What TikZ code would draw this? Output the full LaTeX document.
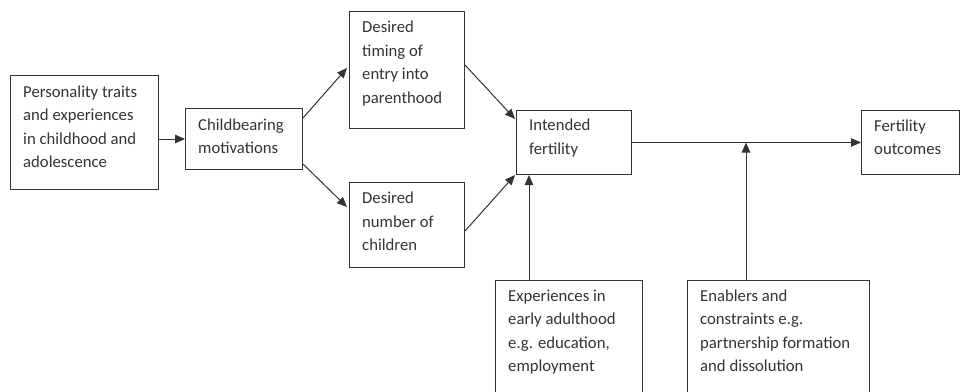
\documentclass[tikz,border=0pt]{standalone}
\usepackage{fontspec}
\setmainfont{Carlito}
\usetikzlibrary{arrows.meta}
\definecolor{ink}{HTML}{333333}
\begin{document}
\begin{tikzpicture}[x=1pt,y=-1pt,
  frame/.style={draw=ink, line width=1pt, anchor=north west, inner sep=0pt},
  txt/.style={anchor=north west, inner sep=0pt, align=left, text=ink, font=\fontsize{16.7}{23.5}\selectfont},
  arr/.style={draw=ink, line width=1pt, -{Triangle[length=10pt,width=8.5pt]}}]
\useasboundingbox (0,0) rectangle (960,391);
% boxes
\node[frame, minimum width=148pt, minimum height=114pt] (pers) at (10,75) {};
\node[frame, minimum width=117pt, minimum height=61pt] (child) at (185,108) {};
\node[frame, minimum width=115pt, minimum height=117pt] (timing) at (349,11) {};
\node[frame, minimum width=115pt, minimum height=85pt] (number) at (349,182) {};
\node[frame, minimum width=115pt, minimum height=64pt] (intended) at (516,110) {};
\node[frame, minimum width=98pt, minimum height=64pt] (outcomes) at (861,110) {};
\node[frame, minimum width=147pt, minimum height=130pt] (exp) at (495,280) {};
\node[frame, minimum width=182pt, minimum height=130pt] (en) at (687,280) {};
% texts
\node[txt] (persT) at ([shift={(13,5.5)}]pers.north west) {\strut Personality traits\\and experiences\\in childhood and\\adolescence};
\node[txt] (childT) at ([shift={(13,5.5)}]child.north west) {\strut Childbearing\\motivations};
\node[txt] (timingT) at ([shift={(13,5)}]timing.north west) {\strut Desired\\timing of\\entry into\\parenthood};
\node[txt] (numberT) at ([shift={(13,5)}]number.north west) {\strut Desired\\number of\\children};
\node[txt] (intendedT) at ([shift={(13,4)}]intended.north west) {\strut Intended\\fertility};
\node[txt] (outcomesT) at ([shift={(13,4.5)}]outcomes.north west) {\strut Fertility\\outcomes};
\node[txt] (expT) at ([shift={(13,4.5)}]exp.north west) {\strut Experiences in\\early adulthood\\e.g. education,\\employment};
\node[txt] (enT) at ([shift={(13,4.5)}]en.north west) {\strut Enablers and\\constraints e.g.\\partnership formation\\and dissolution};
% connectors
\draw[arr] (pers.east |- child.west) -- (child.west);
\draw[arr] ([shift={(0,10)}]child.north east) -- ([shift={(-2,57)}]timing.north west);
\draw[arr] ([shift={(0,-6)}]child.south east) -- ([shift={(-2,25)}]number.north west);
\draw[arr] ([shift={(0,54)}]timing.north east) -- ([shift={(-1,9)}]intended.north west);
\draw[arr] ([shift={(0,49)}]number.north east) -- ([shift={(-1,0)}]intended.south west);
\coordinate (e1) at ([xshift=34pt]exp.north west);
\draw[arr] (e1) -- (e1 |- intended.south);
\draw[arr] (intended.east) -- (outcomes.west);
\coordinate (e2) at ([xshift=59pt]en.north west);
\draw[arr] (e2) -- (e2 |- intended.east);
\end{tikzpicture}
\end{document}
